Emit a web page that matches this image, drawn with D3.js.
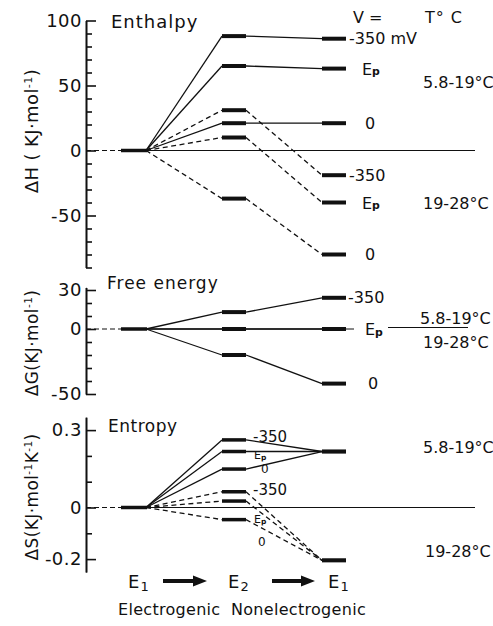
<!DOCTYPE html>
<html>
<head>
<meta charset="utf-8">
<script src="https://cdn.jsdelivr.net/npm/d3@7"></script>
<style>
  body { margin: 0; background: #fff; }
  text { font-family: "DejaVu Sans", sans-serif; fill: #111; }
</style>
</head>
<body>
<svg id="chart" width="493" height="626"></svg>
<script>
// states along the reaction path
const states = ["E1", "E2", "E1b"];
const voltLabels = ["-350", "Ep", "0"];

// enthalpy (kJ/mol): [E1, E2, E1 after], 5.8-19 °C (solid) and 19-28 °C (dashed)
const enthalpyCold = [[0, 88, 86], [0, 65, 63], [0, 21, 21]];
const enthalpyWarm = [[0, 31, -19], [0, 10, -40], [0, -37, -80]];
const enthalpyTicks = [100, 50, 0, -50];

// free energy (kJ/mol), same for both ranges
const freeEnergy = [[0, 13, 24], [0, 0, 0], [0, -20, -42]];
const freeTicks = [30, 0, -50];

// entropy (kJ/mol/K)
const entropyCold = [[0, 0.262, 0.217], [0, 0.217, 0.217], [0, 0.149, 0.217]];
const entropyWarm = [[0, 0.061, -0.205], [0, 0.025, -0.205], [0, -0.047, -0.205]];
const entropyTicks = [0.3, 0, -0.2];

const svg = d3.select("#chart");
const axisX = 86;
const half = 12;

const x = d3.scalePoint().domain(states).range([134, 334]);

const yH = d3.scaleLinear().domain([-90, 100]).range([267.5, 20.5]);
const yG = d3.scaleLinear().domain([-50, 32]).range([394, 287.4]);
const yS = d3.scaleLinear().domain([-0.25, 0.35]).range([572, 417.2]);

function drawAxis(y, majors, minorStep) {
  const [lo, hi] = y.domain();
  const minors = d3.range(Math.ceil(lo / minorStep) * minorStep, hi + 1e-9, minorStep)
    .map(v => +v.toFixed(3)).filter(v => !majors.includes(v));
  svg.append("g")
    .attr("transform", `translate(${axisX},0)`)
    .call(d3.axisLeft(y).tickValues(minors).tickSize(-6).tickSizeOuter(0).tickFormat(""))
    .call(g => g.selectAll("line,path").attr("stroke", "#111").attr("stroke-width", 1.6));
  svg.append("g")
    .attr("transform", `translate(${axisX},0)`)
    .call(d3.axisLeft(y).tickValues(majors).tickSize(-10).tickSizeOuter(0).tickPadding(4)
      .tickFormat(d => String(d)))
    .call(g => g.selectAll("line,path").attr("stroke", "#111").attr("stroke-width", 1.6))
    .call(g => g.selectAll("text")
      .attr("font-family", "DejaVu Sans")
      .attr("font-size", 18)
      .attr("letter-spacing", 0.5)
      .attr("fill", "#111"));
}

function baseline(y, endX) {
  svg.append("line")
    .attr("x1", axisX).attr("x2", x("E1") - half - 1)
    .attr("y1", y(0)).attr("y2", y(0))
    .attr("stroke", "#111").attr("stroke-width", 1.2).attr("stroke-dasharray", "5,3");
  svg.append("line")
    .attr("x1", x("E1") + half).attr("x2", endX)
    .attr("y1", y(0)).attr("y2", y(0))
    .attr("stroke", "#111").attr("stroke-width", 1);
  svg.append("line")
    .attr("x1", x("E1") - half - 1).attr("x2", x("E1") + half + 1)
    .attr("y1", y(0)).attr("y2", y(0))
    .attr("stroke", "#111").attr("stroke-width", 3.5);
}

const line = d3.line();

function drawSeries(y, rows, dashed, bw) {
  rows.forEach(vals => {
    const pts1 = [[x("E1") + half, y(vals[0])], [x("E2") - half, y(vals[1])]];
    const pts2 = [[x("E2") + half, y(vals[1])], [x("E1b") - half, y(vals[2])]];
    [pts1, pts2].forEach(p => {
      svg.append("path")
        .attr("d", line(p))
        .attr("fill", "none")
        .attr("stroke", "#111")
        .attr("stroke-width", 1.3)
        .attr("stroke-dasharray", dashed ? "5,3.5" : null);
    });
    ["E2", "E1b"].forEach((s, i) => {
      svg.append("line")
        .attr("x1", x(s) - half).attr("x2", x(s) + half)
        .attr("y1", y(vals[i + 1])).attr("y2", y(vals[i + 1]))
        .attr("stroke", "#111").attr("stroke-width", bw);
    });
  });
}

function label(tx, ty, txt, size) {
  const t = svg.append("text")
    .attr("x", tx).attr("y", ty)
    .attr("font-size", size)
    .attr("dominant-baseline", "central");
  if (txt === "Ep") {
    t.append("tspan").text("E");
    t.append("tspan").text("p").attr("font-size", size * 0.68).attr("font-weight", "bold").attr("dy", size * 0.18);
  } else {
    t.text(txt);
  }
  return t;
}

function rotTitle(cx, cy, parts, size) {
  const t = svg.append("text")
    .attr("transform", `translate(${cx},${cy}) rotate(-90)`)
    .attr("text-anchor", "middle")
    .attr("font-size", size)
    .attr("letter-spacing", 0.4);
  parts.forEach(p => {
    const s = t.append("tspan").text(p[0]);
    if (p[1]) s.attr("font-size", size * 0.62).attr("baseline-shift", "super");
  });
}

// ---------- Enthalpy ----------
drawAxis(yH, enthalpyTicks, 10);
baseline(yH, 475);
drawSeries(yH, enthalpyCold, false, 4);
drawSeries(yH, enthalpyWarm, true, 4);
svg.append("text").attr("x", 111).attr("y", 28).attr("font-size", 18).attr("letter-spacing", 1).text("Enthalpy");
svg.append("text").attr("x", 353).attr("y", 23).attr("font-size", 16).text("V =");
svg.append("text").attr("x", 425).attr("y", 23).attr("font-size", 16).attr("letter-spacing", 1).text("T° C");
const rx = x("E1b");
label(rx + 15, yH(enthalpyCold[0][2]), "-350 mV", 16);
label(rx + 28, yH(enthalpyCold[1][2]), "Ep", 16);
label(rx + 31, yH(enthalpyCold[2][2]), "0", 16);
label(rx + 15, yH(enthalpyWarm[0][2]), "-350", 16);
label(rx + 28, yH(enthalpyWarm[1][2]), "Ep", 16);
label(rx + 31, yH(enthalpyWarm[2][2]), "0", 16);
label(423, 82, "5.8-19°C", 16);
label(423, 203, "19-28°C", 16);
rotTitle(38, 131, [["ΔH ( KJ·mol"], ["-1", true], [")"]], 18);

// ---------- Free energy ----------
drawAxis(yG, freeTicks, 10);
baseline(yG, 354);
drawSeries(yG, freeEnergy, false, 4);
svg.append("text").attr("x", 107).attr("y", 289).attr("font-size", 17).attr("letter-spacing", 1).text("Free energy");
label(rx + 14, yG(freeEnergy[0][2]), "-350", 16);
label(rx + 31, yG(freeEnergy[1][2]), "Ep", 16);
label(rx + 34, yG(freeEnergy[2][2]), "0", 16);
svg.append("line").attr("x1", 388).attr("x2", 468).attr("y1", yG(0) - 1.5).attr("y2", yG(0) - 1.5)
  .attr("stroke", "#111").attr("stroke-width", 1);
label(420, 318, "5.8-19°C", 16);
label(423, 342, "19-28°C", 16);
rotTitle(38, 343, [["ΔG(KJ·mol"], ["-1", true], [")"]], 17);

// ---------- Entropy ----------
drawAxis(yS, entropyTicks, 0.1);
baseline(yS, 475);
drawSeries(yS, entropyCold, false, 3.5);
drawSeries(yS, entropyWarm, true, 3.5);
svg.append("text").attr("x", 108).attr("y", 432).attr("font-size", 17).attr("letter-spacing", 0.5).text("Entropy");
const mx = x("E2");
label(mx + 19, 437, "-350", 15);
label(mx + 20, 455, "Ep", 11);
label(mx + 27, 469, "0", 12);
label(mx + 19, 490, "-350", 15);
label(mx + 20, 519, "Ep", 11);
label(mx + 24, 542, "0", 12);
label(423, 447, "5.8-19°C", 16);
label(425, 551, "19-28°C", 16);
rotTitle(38, 497, [["ΔS(KJ·mol"], ["-1", true], ["K"], ["-1", true], [")"]], 17);

// ---------- reaction path ----------
states.forEach(s => {
  const t = svg.append("text").attr("x", x(s) - 6).attr("y", 588).attr("font-size", 18);
  t.append("tspan").text("E");
  t.append("tspan").text(s === "E2" ? "2" : "1").attr("font-size", 13).attr("dy", 3).attr("dx", 1);
});
function arrow(x0, x1, y) {
  svg.append("path")
    .attr("d", `M${x0},${y - 2}H${x1 - 14}V${y - 5.5}L${x1},${y}L${x1 - 14},${y + 5.5}V${y + 2}H${x0}Z`)
    .attr("fill", "#111");
}
arrow(x("E1") + 29, x("E1") + 73, 581);
arrow(x("E2") + 38, x("E2") + 81, 581);
svg.append("text").attr("x", 118).attr("y", 615).attr("font-size", 16).attr("letter-spacing", 0.3).text("Electrogenic");
svg.append("text").attr("x", 231).attr("y", 615).attr("font-size", 16).attr("letter-spacing", 0.3).text("Nonelectrogenic");
</script>
</body>
</html>
